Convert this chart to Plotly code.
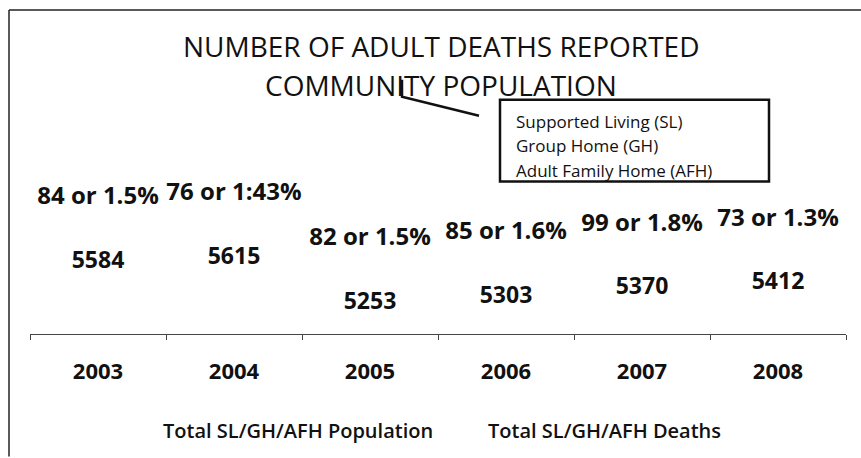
import plotly.graph_objects as go

# ---- data ----
years = ["2003", "2004", "2005", "2006", "2007", "2008"]
population = [5584, 5615, 5253, 5303, 5370, 5412]
deaths = [84, 76, 82, 85, 99, 73]
death_pct = ["1.5%", "1:43%", "1.5%", "1.6%", "1.8%", "1.3%"]
death_labels = [f"{d} or {p}" for d, p in zip(deaths, death_pct)]
pop_labels = [str(v) for v in population]

title_lines = ["NUMBER OF ADULT DEATHS REPORTED", "COMMUNITY POPULATION"]
box_lines = ["Supported Living (SL)", "Group Home (GH)", "Adult Family Home (AFH)"]
series_names = ["Total SL/GH/AFH Population", "Total SL/GH/AFH Deaths"]

# ---- geometry helpers (layout only) ----
W, H = 861, 458
L, R, T, B = 30, 15, 10, 123
PW, PH = W - L - R, H - T - B


def xp(px):
    return (px - L) / PW


def yp(py):
    return (H - B - py) / PH


FONT = "Open Sans"
INK = "#111111"

y_range = [5004, 7619]
shift = 515  # label offset of the deaths series, in axis units
y2_range = [y_range[0] - shift, y_range[1] - shift]

fig = go.Figure()
fig.add_trace(go.Scatter(
    x=years, y=population, text=pop_labels, mode="markers+text",
    textposition="middle center", name=series_names[0],
    marker=dict(size=1, color="rgba(0,0,0,0)"),
    textfont=dict(family=FONT, size=23, color=INK, weight="bold"),
    hoverinfo="skip", cliponaxis=False,
))
fig.add_trace(go.Scatter(
    x=years, y=population, text=death_labels, mode="markers+text",
    textposition="middle center", name=series_names[1], yaxis="y2",
    marker=dict(size=1, color="rgba(0,0,0,0)"),
    textfont=dict(family=FONT, size=24, color=INK, weight="bold"),
    hoverinfo="skip", cliponaxis=False,
))

shapes = [
    # frame
    dict(type="line", xref="paper", yref="paper", x0=xp(9), x1=xp(861), y0=yp(10), y1=yp(10),
         line=dict(color="#222", width=1.5)),
    dict(type="line", xref="paper", yref="paper", x0=xp(9), x1=xp(9), y0=yp(10), y1=yp(458),
         line=dict(color="#222", width=1.5)),
    # legend box
    dict(type="rect", xref="paper", yref="paper", x0=xp(500), x1=xp(769), y0=yp(100), y1=yp(182),
         line=dict(color="#111", width=2.5)),
    # callout line
    dict(type="path", xref="paper", yref="paper",
         path=f"M {xp(402)} {yp(80)} L {xp(402)} {yp(97)} L {xp(479)} {yp(116)}",
         line=dict(color="#111", width=2.5)),
]

annotations = []
for txt, py in zip(title_lines, [46, 85]):
    annotations.append(dict(text=txt, xref="paper", yref="paper", x=xp(441), y=yp(py),
                            showarrow=False, xanchor="center", yanchor="middle",
                            font=dict(family=FONT, size=28, color=INK)))
for txt, py in zip(box_lines, [122, 146, 171]):
    annotations.append(dict(text=txt, xref="paper", yref="paper", x=xp(514), y=yp(py),
                            showarrow=False, xanchor="left", yanchor="middle",
                            font=dict(family=FONT, size=17, color=INK)))

fig.update_layout(
    width=W, height=H,
    margin=dict(l=L, r=R, t=T, b=B),
    paper_bgcolor="white", plot_bgcolor="white",
    showlegend=True,
    legend=dict(orientation="h", x=xp(123), xanchor="left", y=yp(430), yanchor="middle",
                font=dict(family=FONT, size=20, color=INK, weight=600),
                entrywidth=280, bgcolor="rgba(0,0,0,0)"),
    xaxis=dict(type="category", range=[-0.5, 5.5], showline=True, linecolor="#444", linewidth=1,
               ticks="outside", tickson="boundaries", ticklen=5, tickcolor="#444",
               showgrid=False, zeroline=False, ticklabelstandoff=18, fixedrange=True,
               tickfont=dict(family=FONT, size=22, color=INK, weight="bold")),
    yaxis=dict(visible=False, range=y_range, fixedrange=True),
    yaxis2=dict(visible=False, range=y2_range, overlaying="y", fixedrange=True),
    shapes=shapes, annotations=annotations,
)

fig.write_html("out.html", config={"displayModeBar": False},
               post_script="document.body.style.margin='0';")
